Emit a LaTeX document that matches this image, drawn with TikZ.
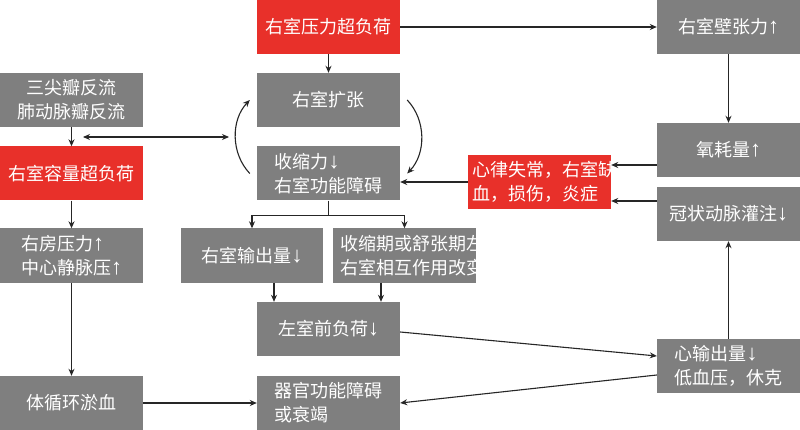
\documentclass[tikz,border=0pt]{standalone}
\usepackage{fontspec}
\usetikzlibrary{arrows.meta,calc}
\newfontfamily\cjk{Noto Sans CJK SC}
\newfontfamily\arrfont{Liberation Sans}
\newcommand\uarr{{\arrfont\fontsize{22}{24}\selectfont ↑}}
\newcommand\darr{{\arrfont\fontsize{22}{24}\selectfont ↓}}
\definecolor{boxgray}{HTML}{7F7F7F}
\definecolor{boxred}{HTML}{E8302A}
\tikzset{
  gbox/.style={fill=boxgray, text=white, minimum width=143pt, minimum height=54pt, inner sep=0pt,
    font=\cjk\fontsize{18}{24}\selectfont, align=center},
  rbox/.style={gbox, fill=boxred},
  arr/.style={-{Stealth[length=7pt,width=6pt]}, line width=1.1pt, black!85},
  darrow/.style={{Stealth[length=7pt,width=6pt]}-{Stealth[length=7pt,width=6pt]}, line width=1.1pt, black!85}
}
\begin{document}
\begin{tikzpicture}[x=1pt,y=-1pt]
\fill[white] (0,0) rectangle (800,430);
\useasboundingbox (0,0) rectangle (800,430);
% nodes
\node[rbox] (rp) at (328.5,27) {右室压力超负荷};
\node[gbox] (rw) at (728.5,27) {右室壁张力\uarr};
\node[gbox] (tr) at (71.5,100) {三尖瓣反流\\肺动脉瓣反流};
\node[rbox] (rv) at (71.5,173.5) {右室容量超负荷};
\node[gbox] (rd) at (328.5,100) {右室扩张};
\node[gbox, align=left] (cf) at (328.5,173.5) {收缩力\darr\\右室功能障碍};
\node[gbox] (ox) at (728.5,150) {氧耗量\uarr};
\begin{scope}
\clip (468,155) rectangle (611,209);
\node[rbox, text width=135pt, inner xsep=4pt, align=left] (ar) at (539.5,182) {\mbox{心律失常，右室缺}\\\mbox{血，损伤，炎症}};
\end{scope}
\node[gbox] (co) at (728.5,214) {冠状动脉灌注\darr};
\node[gbox, align=left] (ra) at (71.5,255.5) {右房压力\uarr\\中心静脉压\uarr};
\node[gbox, minimum width=142pt] (ro) at (252,255.5) {右室输出量\darr};
\begin{scope}
\clip (333,228) rectangle (476,283);
\node[gbox, text width=129pt, inner xsep=7pt, align=left] (ia) at (404.5,255.5) {\mbox{收缩期或舒张期左}\\\mbox{右室相互作用改变}};
\end{scope}
\node[gbox] (lp) at (328.5,329) {左室前负荷\darr};
\node[gbox] (sc) at (71.5,403) {体循环淤血};
\node[gbox, align=left] (of) at (328.5,403) {器官功能障碍\\或衰竭};
\node[gbox, align=left] (ch) at (728.5,366) {心输出量\darr\\低血压，休克};
% connectors
\draw[arr] (rp) -- (rw);
\draw[arr] (rp) -- (rd);
\draw[arr] (rw) -- (ox);
\draw[arr] ([yshift=-15pt]ox.west) -- ([yshift=17pt]ar.east);
\draw[arr] ([yshift=13pt]co.west) -- ([yshift=-19pt]ar.east);
\draw[arr] (ar.west) -- (ar.west -| cf.east);
\draw[arr] ([xshift=-7pt]cf.west) .. controls ([xshift=-26pt,yshift=20pt]cf.west) and ([xshift=-26pt,yshift=-20pt]rd.west) .. ([xshift=-7pt]rd.west);
\draw[arr] ([xshift=7pt]rd.east) .. controls ([xshift=26pt,yshift=-20pt]rd.east) and ([xshift=26pt,yshift=20pt]cf.east) .. ([xshift=7pt]cf.east);
\coordinate (d1) at (83,137);
\coordinate (d2) at (229,137);
\draw[darrow] (d1) -- (d2);
\draw[arr] (tr) -- (rv);
\draw[arr] (rv) -- (ra);
\draw[arr] (ra) -- (sc);
\draw[arr] (sc) -- (of);
\draw[arr] (cf.south) -- ++(0,15) -| (ro.north);
\draw[arr] (cf.south) ++(0,15) -| (ia.north);
\coordinate (r1) at ([xshift=22pt]ro.south);
\draw[arr] (r1) -- (r1 |- lp.north);
\coordinate (r2) at ([xshift=-23.5pt]ia.south);
\draw[arr] (r2) -- (r2 |- lp.north);
\draw[arr] ([yshift=-3pt]lp.east) -- ([yshift=10pt]ch.west);
\draw[arr] ([yshift=-9pt]ch.west) -- (of.east);
\draw[arr] (ch) -- (co);
\end{tikzpicture}
\end{document}
